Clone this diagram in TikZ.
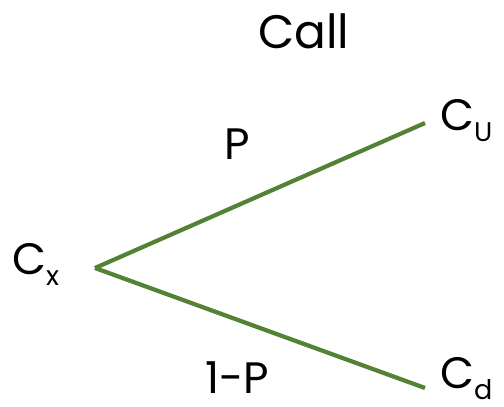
\documentclass[tikz,border=0pt]{standalone}
\usepackage{fontspec}
\setmainfont{Poppins}
\definecolor{branchgreen}{RGB}{84,130,53}
\newcommand{\lowsub}[1]{\raisebox{-0.26em}{\fontsize{27}{30}\selectfont #1}}
\tikzset{
  lbl/.style={inner sep=0pt, anchor=base west, font=\fontsize{44}{48}\selectfont},
  branch/.style={draw=branchgreen, line width=4.2pt}
}
\begin{document}
\begin{tikzpicture}[x=1pt,y=-1pt]
        \useasboundingbox (0,0) rectangle (504,407);
        \node[lbl, font=\fontsize{47}{50}\selectfont] (title) at (258,48) {Call};
        \node[lbl] (cx) at (12,274) {C\lowsub{x}};
        \node[lbl] (cu) at (440,130) {C\lowsub{U}};
        \node[lbl] (cd) at (440,388) {C\lowsub{d}};
        \node[lbl] (p) at (224,159) {P};
        \node[lbl] (q) at (205,393) {1-P};
        \coordinate (root) at (95,268);
        \coordinate (up) at (425,123);
        \coordinate (down) at (425,388);
        \draw[branch] (root) -- (up);
        \draw[branch] (root) -- (down);
    \end{tikzpicture}
\end{document}
